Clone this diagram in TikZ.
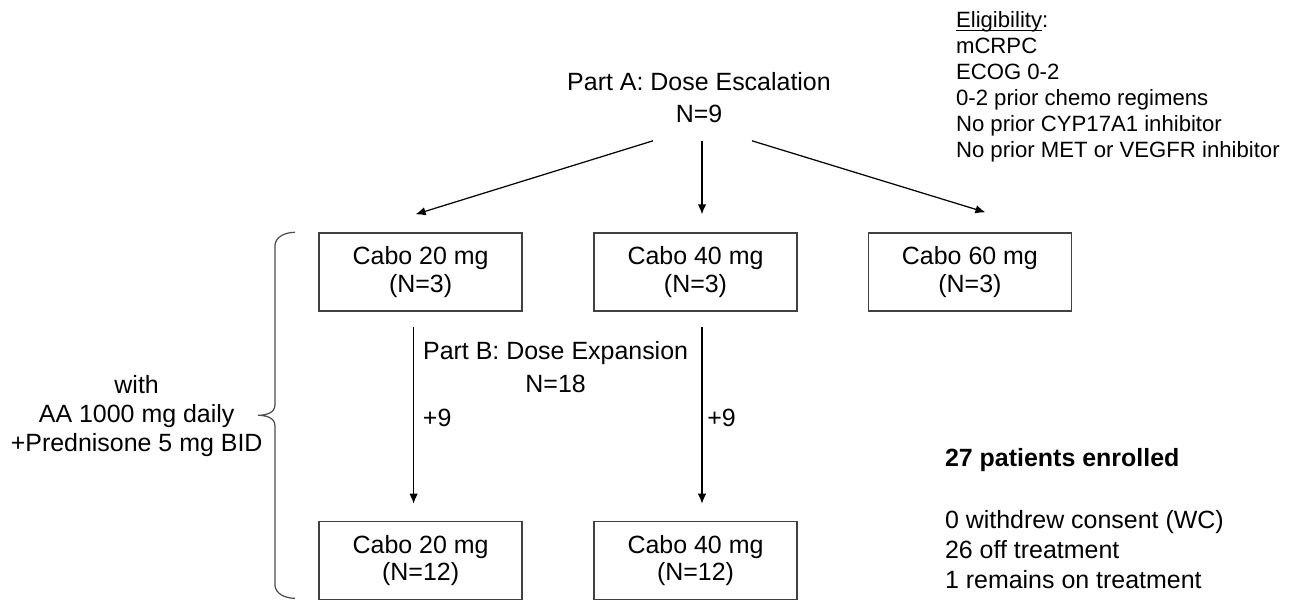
\documentclass[tikz,border=0pt]{standalone}
\usepackage{fontspec}
\setmainfont{Liberation Sans}
\usetikzlibrary{positioning,arrows.meta,calc}

% underline that sits just under the baseline
\newcommand{\ulword}[1]{\setbox0\hbox{#1}\rlap{\rule[-1.6pt]{\wd0}{0.6pt}}#1}

\begin{document}
\begin{tikzpicture}[
  dose/.style={draw=black!75, line width=0.8pt, minimum width=4.06cm,
               minimum height=1.56cm, align=center,
               font=\fontsize{14.2}{15.5}\selectfont},
  txt/.style={inner sep=0pt, align=center,
              font=\fontsize{14.2}{18.5}\selectfont},
  note/.style={inner sep=0pt, align=left,
               font=\fontsize{14.2}{17}\selectfont},
  link/.style={->, line width=0.7pt},
  >={Latex[length=2mm,width=1.7mm]}
]

\useasboundingbox (0,0) rectangle (26.04,-11.98);

% Part A: three dose levels
\node[dose] (cabo40) at (13.91,-5.44) {Cabo 40 mg\\(N=3)};
\node[dose, left=1.41cm of cabo40] (cabo20) {Cabo 20 mg\\(N=3)};
\node[dose, right=1.4cm of cabo40] (cabo60) {Cabo 60 mg\\(N=3)};
\node[txt, above=2.18cm of cabo40, xshift=0.07cm] (partA) {Part A: Dose Escalation\\N=9};

% Part B: expansion cohorts
\node[dose, below=4.18cm of cabo20] (cabo20b) {Cabo 20 mg\\(N=12)};
\node[dose, below=4.18cm of cabo40] (cabo40b) {Cabo 40 mg\\(N=12)};
\node[txt, below=0.59cm of cabo20, xshift=2.7cm] (partB) {Part B: Dose Expansion\\N=18};
\node[txt, below right=1.94cm and 0.04cm of cabo20.south] (add20) {+9};
\node[txt, below right=1.94cm and 0.23cm of cabo40.south] (add40) {+9};

% Background therapy
\coordinate (mid) at ($(cabo20.west)!0.5!(cabo20b.west)$);
\node[txt, left=1.11cm of mid, font=\fontsize{14.2}{16.4}\selectfont] (combo)
  {with\\AA 1000 mg daily\\+Prednisone 5 mg BID};
\draw[line width=0.7pt, black!70] ([xshift=-0.47cm]cabo20.north west)
  to[out=180,in=90] ++(-0.4,-0.28) -- ++(0,-3.18)
  to[out=-90,in=0] ++(-0.34,-0.2) to[out=0,in=90] ++(0.34,-0.2)
  -- ++(0,-3.18) to[out=-90,in=180] ++(0.4,-0.28);

% Side notes
\node[note, above right=1.39cm and 1.76cm of cabo60.north west,
      font=\fontsize{12.6}{14.8}\selectfont] (elig)
  {\ulword{Eligibility}:\\mCRPC\\ECOG 0-2\\0-2 prior chemo regimens\\
   No prior CYP17A1 inhibitor\\No prior MET or VEGFR inhibitor};
\node[note, above right=0.22cm and 2.94cm of cabo40b.south east] (enrol)
  {\textbf{27 patients enrolled}\\[18.7pt]0 withdrew consent (WC)\\
   26 off treatment\\1 remains on treatment};

% Arrows from Part A
\draw[link] ([xshift=-0.92cm,yshift=-0.35cm]partA.south) -- ([xshift=-0.1cm,yshift=0.36cm]cabo20.north);
\draw[link] ([xshift=0.06cm,yshift=-0.35cm]partA.south) -- ([xshift=0.13cm,yshift=0.36cm]cabo40.north);
\draw[link] ([xshift=1.06cm,yshift=-0.35cm]partA.south) -- ([xshift=0.31cm,yshift=0.4cm]cabo60.north);

% Expansion arrows
\draw[link] ([xshift=-0.14cm,yshift=-0.31cm]cabo20.south) -- ([xshift=-0.14cm,yshift=0.34cm]cabo20b.north);
\draw[link] ([xshift=0.13cm,yshift=-0.31cm]cabo40.south) -- ([xshift=0.13cm,yshift=0.34cm]cabo40b.north);

\end{tikzpicture}
\end{document}
